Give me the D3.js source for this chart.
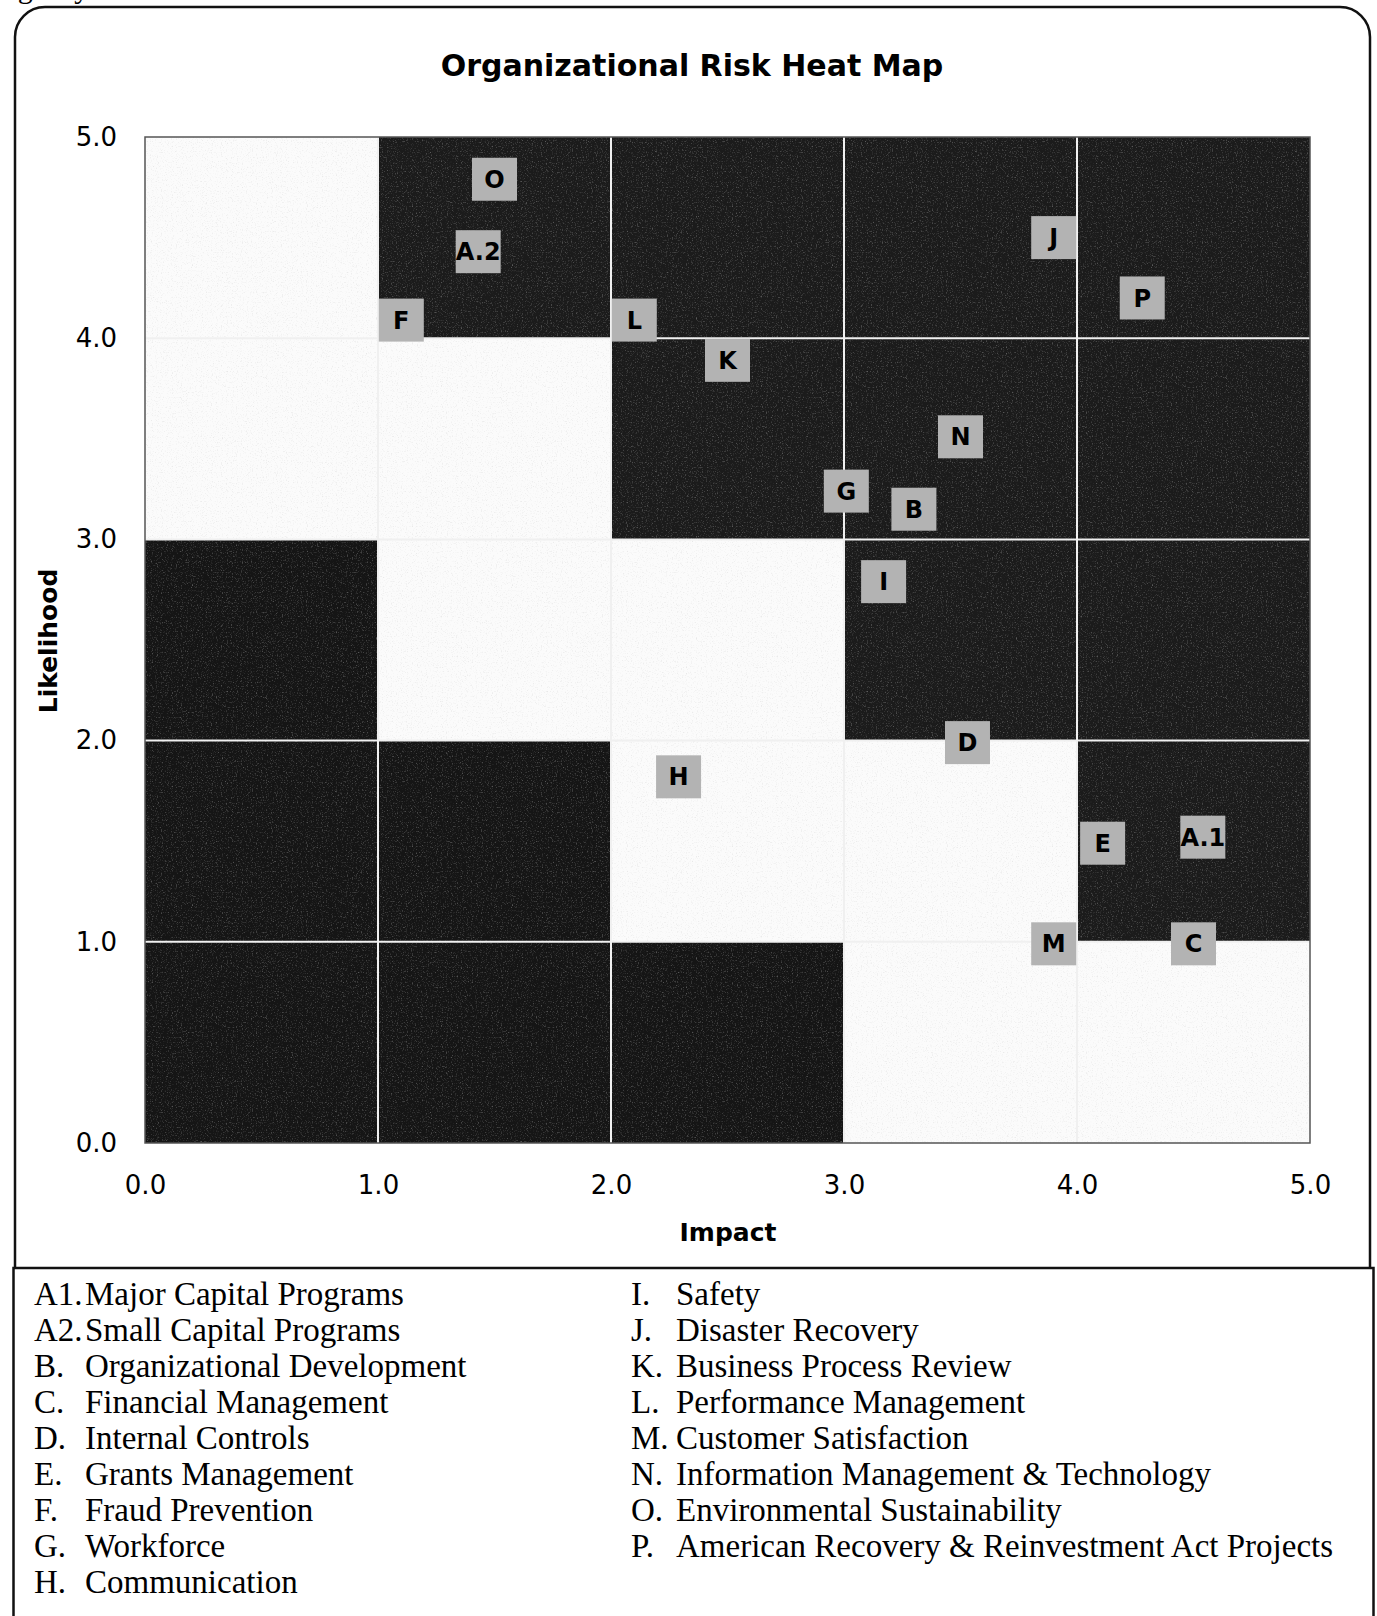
<!DOCTYPE html>
<html>
<head>
<meta charset="utf-8">
<script src="https://cdn.jsdelivr.net/npm/d3@7"></script>
<style>
  body { margin: 0; background: #fff; }
  svg { display: block; }
</style>
</head>
<body>
<div id="heatmap"></div>
<script>
// impact / likelihood scale ticks
var impactTicks = [0, 1, 2, 3, 4, 5];
var likelihoodTicks = [0, 1, 2, 3, 4, 5];

// zone of each cell, row 0 = likelihood 0-1, column 0 = impact 0-1
var riskZones = [
  ["low", "low", "low", "medium", "medium"],
  ["low", "low", "medium", "medium", "high"],
  ["low", "medium", "medium", "high", "high"],
  ["medium", "medium", "high", "high", "high"],
  ["medium", "high", "high", "high", "high"]
];

// risks plotted on the map
var riskCodes      = ["A.1", "A.2", "B", "C", "D", "E", "F", "G", "H", "I", "J", "K", "L", "M", "N", "O", "P"];
var riskImpact     = [4.54, 1.43, 3.30, 4.50, 3.53, 4.11, 1.10, 3.01, 2.29, 3.17, 3.90, 2.50, 2.10, 3.90, 3.50, 1.50, 4.28];
var riskLikelihood = [1.52, 4.43, 3.15, 0.99, 1.99, 1.49, 4.09, 3.24, 1.82, 2.79, 4.50, 3.89, 4.09, 0.99, 3.51, 4.79, 4.20];

// legend below the chart
var legendCodes = ["A1.", "A2.", "B.", "C.", "D.", "E.", "F.", "G.", "H.",
                   "I.", "J.", "K.", "L.", "M.", "N.", "O.", "P."];
var legendNames = ["Major Capital Programs", "Small Capital Programs", "Organizational Development",
                   "Financial Management", "Internal Controls", "Grants Management", "Fraud Prevention",
                   "Workforce", "Communication",
                   "Safety", "Disaster Recovery", "Business Process Review", "Performance Management",
                   "Customer Satisfaction", "Information Management & Technology",
                   "Environmental Sustainability", "American Recovery & Reinvestment Act Projects"];

var zoneColors = {high: "#1b1b1b", low: "#151515", medium: "#fbfbfb"};

var _width = 1377, _height = 1616,
    _margins = {top: 137, left: 145, right: 67, bottom: 473};

var svg = d3.select("#heatmap").append("svg")
    .attr("width", _width)
    .attr("height", _height);

var defs = svg.append("defs");

var grain = defs.append("filter")
    .attr("id", "grain")
    .attr("x", 0).attr("y", 0)
    .attr("width", "100%").attr("height", "100%");
grain.append("feTurbulence")
    .attr("type", "fractalNoise")
    .attr("baseFrequency", 0.8)
    .attr("numOctaves", 2)
    .attr("seed", 4)
    .attr("result", "noise");
grain.append("feColorMatrix")
    .attr("in", "noise")
    .attr("type", "matrix")
    .attr("values", "0 0 0 0 0.6  0 0 0 0 0.6  0 0 0 0 0.6  2.2 0 0 0 -1.2");

function quadrantWidth() { return _width - _margins.left - _margins.right; }
function quadrantHeight() { return _height - _margins.top - _margins.bottom; }

var x = d3.scaleLinear().domain([0, 5]).range([_margins.left, _margins.left + quadrantWidth()]);
var y = d3.scaleLinear().domain([0, 5]).range([_margins.top + quadrantHeight(), _margins.top]);

// scanned-page text peeking in at the top edge
svg.append("text")
    .attr("x", -4)
    .attr("y", -2)
    .style("font-family", "'Liberation Serif', serif")
    .style("font-size", "30px")
    .text("Agency");

// outer frame with rounded top corners
var fl = 15, fr = 1370, ft = 7, fb = 1268, rad = 30;
svg.append("path")
    .attr("d", "M" + fl + "," + fb + " V" + (ft + rad) +
        " A" + rad + "," + rad + " 0 0 1 " + (fl + rad) + "," + ft +
        " H" + (fr - rad) +
        " A" + rad + "," + rad + " 0 0 1 " + fr + "," + (ft + rad) +
        " V" + fb)
    .attr("fill", "none")
    .attr("stroke", "#111")
    .attr("stroke-width", 2.5);

// title
svg.append("text")
    .attr("x", 692)
    .attr("y", 76)
    .attr("text-anchor", "middle")
    .style("font-family", "'DejaVu Sans', sans-serif")
    .style("font-weight", "bold")
    .style("font-size", "30px")
    .text("Organizational Risk Heat Map");

// cells
var cells = [];
riskZones.forEach(function (row, r) {
    row.forEach(function (zone, c) {
        cells.push({i: c, j: r, zone: zone});
    });
});

var bodyG = svg.append("g").attr("class", "body");

bodyG.selectAll("rect.cell")
    .data(cells)
  .enter().append("rect")
    .attr("class", "cell")
    .attr("x", function (d) { return x(d.i); })
    .attr("y", function (d) { return y(d.j + 1); })
    .attr("width", function (d) { return x(d.i + 1) - x(d.i); })
    .attr("height", function (d) { return y(d.j) - y(d.j + 1); })
    .attr("fill", function (d) { return zoneColors[d.zone]; });

// scan grain over the plot
bodyG.append("rect")
    .attr("x", x(0)).attr("y", y(5))
    .attr("width", quadrantWidth()).attr("height", quadrantHeight())
    .attr("fill", "#fff")
    .attr("filter", "url(#grain)")
    .attr("opacity", 0.5);

// grid lines
bodyG.selectAll("line.vgrid")
    .data(impactTicks.slice(1, -1))
  .enter().append("line")
    .attr("class", "vgrid")
    .attr("x1", function (d) { return x(d); })
    .attr("x2", function (d) { return x(d); })
    .attr("y1", y(5)).attr("y2", y(0))
    .attr("stroke", "#f0f0f0")
    .attr("stroke-width", 2);

bodyG.selectAll("line.hgrid")
    .data(likelihoodTicks.slice(1, -1))
  .enter().append("line")
    .attr("class", "hgrid")
    .attr("y1", function (d) { return y(d); })
    .attr("y2", function (d) { return y(d); })
    .attr("x1", x(0)).attr("x2", x(5))
    .attr("stroke", "#f0f0f0")
    .attr("stroke-width", 2);

bodyG.append("rect")
    .attr("x", x(0)).attr("y", y(5))
    .attr("width", quadrantWidth()).attr("height", quadrantHeight())
    .attr("fill", "none")
    .attr("stroke", "#555")
    .attr("stroke-width", 1.5);

// axes
var xAxis = d3.axisBottom(x)
    .tickValues(impactTicks)
    .tickSize(0)
    .tickPadding(33)
    .tickFormat(d3.format(".1f"));

var yAxis = d3.axisLeft(y)
    .tickValues(likelihoodTicks)
    .tickSize(0)
    .tickPadding(28)
    .tickFormat(d3.format(".1f"));

var xg = svg.append("g")
    .attr("class", "x axis")
    .attr("transform", "translate(0," + y(0) + ")")
    .call(xAxis);

var yg = svg.append("g")
    .attr("class", "y axis")
    .attr("transform", "translate(" + x(0) + ",0)")
    .call(yAxis);

[xg, yg].forEach(function (g) {
    g.select(".domain").remove();
    g.selectAll("text")
        .attr("fill", "#000")
        .style("font-family", "'DejaVu Sans', sans-serif")
        .style("font-size", "26px");
});

svg.append("text")
    .attr("x", 728)
    .attr("y", 1241)
    .attr("text-anchor", "middle")
    .style("font-family", "'DejaVu Sans', sans-serif")
    .style("font-weight", "bold")
    .style("font-size", "25px")
    .text("Impact");

svg.append("text")
    .attr("transform", "translate(57,641) rotate(-90)")
    .attr("text-anchor", "middle")
    .style("font-family", "'DejaVu Sans', sans-serif")
    .style("font-weight", "bold")
    .style("font-size", "25px")
    .text("Likelihood");

// risk markers
var risks = riskCodes.map(function (code, k) {
    return {code: code, impact: riskImpact[k], likelihood: riskLikelihood[k]};
});

var boxW = 45, boxH = 43;
var markers = svg.append("g").attr("class", "markers")
    .selectAll("g.marker")
    .data(risks)
  .enter().append("g")
    .attr("class", "marker")
    .attr("transform", function (d) {
        return "translate(" + x(d.impact) + "," + y(d.likelihood) + ")";
    });

markers.append("rect")
    .attr("x", -boxW / 2).attr("y", -boxH / 2)
    .attr("width", boxW).attr("height", boxH)
    .attr("fill", "#b3b3b3");

markers.append("text")
    .attr("text-anchor", "middle")
    .attr("dy", "0.36em")
    .style("font-family", "'DejaVu Sans', sans-serif")
    .style("font-weight", "bold")
    .style("font-size", "24px")
    .attr("fill", "#000")
    .text(function (d) { return d.code; });

// legend box
svg.append("rect")
    .attr("x", 13.5).attr("y", 1268)
    .attr("width", 1360).attr("height", 400)
    .attr("fill", "none")
    .attr("stroke", "#111")
    .attr("stroke-width", 2.5);

var perColumn = 9;
var legend = svg.append("g").attr("class", "legend")
    .selectAll("g.item")
    .data(legendCodes)
  .enter().append("g")
    .attr("class", "item")
    .attr("transform", function (d, k) {
        var col = k < perColumn ? 0 : 1;
        var row = col ? k - perColumn : k;
        return "translate(" + (col ? 631 : 34) + "," + (1305 + row * 36) + ")";
    });

legend.append("text")
    .style("font-family", "'Liberation Serif', serif")
    .style("font-size", "33px")
    .text(function (d) { return d; });

legend.append("text")
    .attr("x", function (d, k) { return k < perColumn ? 51 : 45; })
    .style("font-family", "'Liberation Serif', serif")
    .style("font-size", "33px")
    .text(function (d, k) { return legendNames[k]; });
</script>
</body>
</html>
